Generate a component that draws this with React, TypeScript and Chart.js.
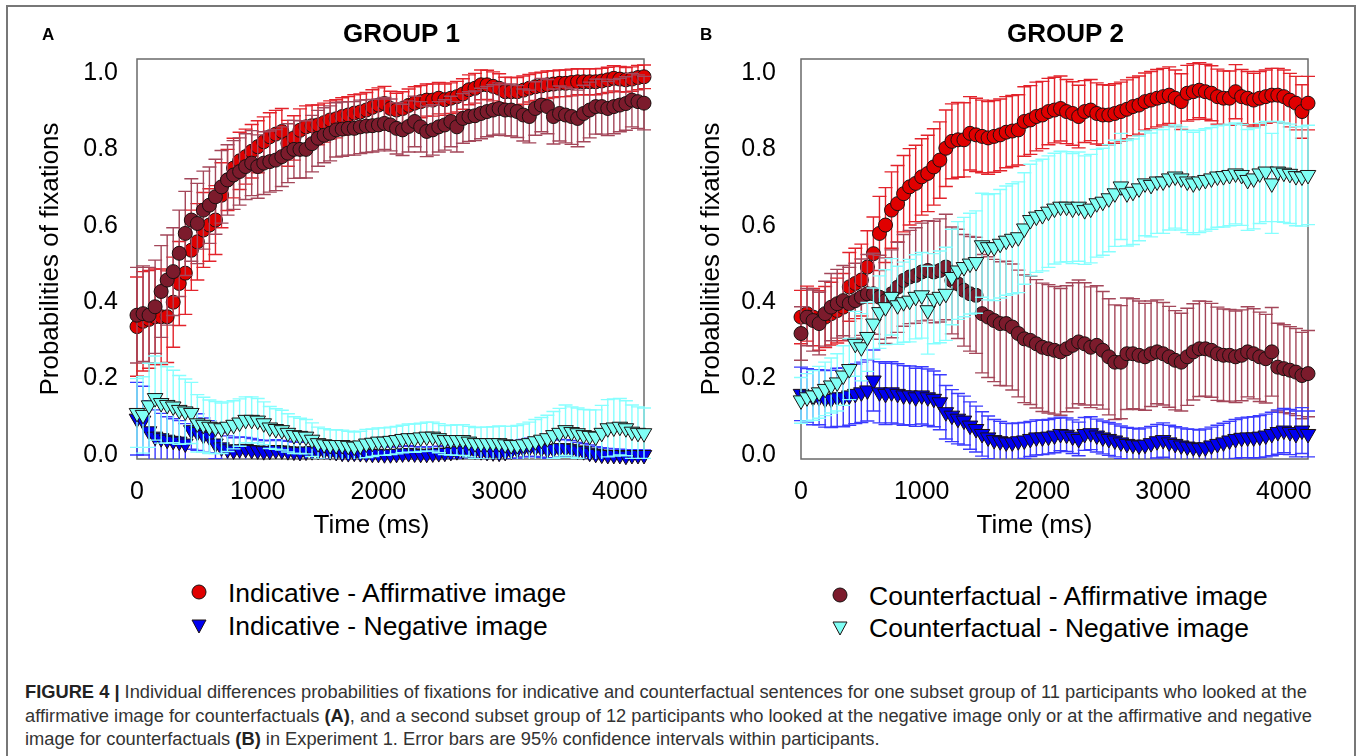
import React, { useEffect, useRef } from "react";
import { Chart, registerables } from "chart.js";
Chart.register(...registerables);

const FONT = "'Liberation Sans', Arial, Helvetica, sans-serif";

const TIME_MS = [0,50,100,150,200,250,300,350,400,450,500,550,600,650,700,750,800,850,900,950,1000,1050,1100,1150,1200,1250,1300,1350,1400,1450,1500,1550,1600,1650,1700,1750,1800,1850,1900,1950,2000,2050,2100,2150,2200,2250,2300,2350,2400,2450,2500,2550,2600,2650,2700,2750,2800,2850,2900,2950,3000,3050,3100,3150,3200,3250,3300,3350,3400,3450,3500,3550,3600,3650,3700,3750,3800,3850,3900,3950,4000,4050,4100,4150,4200];
const X_TICKS = [0, 1000, 2000, 3000, 4000];
const Y_TICKS = [0, 0.2, 0.4, 0.6, 0.8, 1.0];

const SERIES_LABELS = [
  "Indicative - Affirmative image",
  "Counterfactual - Affirmative image",
  "Indicative - Negative image",
  "Counterfactual - Negative image",
];

// ---------- GROUP 1 (panel A) ----------
const A_IND_AFF = [0.336,0.350,0.355,0.362,0.362,0.362,0.400,0.449,0.476,0.536,
  0.558,0.589,0.602,0.615,0.680,0.720,0.751,0.770,0.781,0.795,
  0.807,0.820,0.833,0.840,0.847,0.816,0.830,0.850,0.859,0.862,
  0.864,0.870,0.877,0.880,0.886,0.890,0.895,0.898,0.903,0.910,
  0.916,0.920,0.907,0.903,0.907,0.915,0.921,0.925,0.929,0.929,
  0.934,0.930,0.934,0.938,0.945,0.956,0.960,0.969,0.969,0.965,
  0.960,0.951,0.951,0.951,0.955,0.960,0.964,0.966,0.969,0.971,
  0.973,0.973,0.975,0.977,0.977,0.977,0.977,0.979,0.982,0.986,
  0.984,0.982,0.984,0.988,0.990];
const A_IND_AFF_CI = [0.130,0.130,0.128,0.125,0.125,0.120,0.118,
  0.110,0.108,0.105,0.100,0.098,0.095,0.090,
  0.085,0.080,0.078,0.075,0.072,0.070,0.068,
  0.065,0.063,0.062,0.060,0.060,0.058,0.056,0.055,0.054,0.052,
  0.051,0.050,0.050,0.049,0.048,0.048,0.047,0.046,0.046,0.045,
  0.045,0.045,0.044,0.044,0.043,0.043,0.042,0.042,0.042,0.041,
  0.041,0.040,0.040,0.040,0.039,0.039,0.039,0.038,0.038,0.038,
  0.038,0.037,0.037,0.037,0.036,0.036,0.036,0.036,0.035,0.035,
  0.035,0.035,0.034,0.034,0.034,0.034,0.033,0.033,0.033,0.033,
  0.032,0.032,0.032,0.031];
const A_CF_AFF = [0.366,0.370,0.366,0.388,0.428,0.458,0.480,0.528,0.580,0.615,
  0.606,0.641,0.654,0.676,0.702,0.720,0.733,0.742,0.755,0.764,
  0.755,0.764,0.768,0.772,0.781,0.790,0.800,0.800,0.800,0.815,
  0.829,0.837,0.842,0.851,0.853,0.855,0.855,0.859,0.861,0.862,
  0.864,0.868,0.864,0.855,0.851,0.860,0.873,0.859,0.847,0.851,
  0.859,0.864,0.873,0.859,0.881,0.886,0.888,0.894,0.899,0.903,
  0.907,0.903,0.903,0.899,0.890,0.886,0.907,0.916,0.912,0.886,
  0.894,0.890,0.886,0.881,0.894,0.903,0.912,0.912,0.907,0.912,
  0.916,0.920,0.929,0.925,0.921];
const A_CF_AFF_CI = [0.125,0.125,0.125,0.122,0.120,0.118,0.115,0.113,0.110,0.108,
  0.105,0.102,0.100,0.098,0.095,0.092,0.090,0.088,0.086,0.085,
  0.083,0.082,0.080,0.080,0.078,0.077,0.076,0.075,0.075,0.074,
  0.073,0.072,0.072,0.071,0.071,0.070,0.070,0.070,0.069,0.069,
  0.068,0.068,0.068,0.067,0.067,0.067,0.066,0.066,0.066,0.066,
  0.066,0.066,0.066,0.066,0.065,0.065,0.065,0.066,0.066,0.066,
  0.067,0.067,0.068,0.068,0.068,0.069,0.070,0.070,0.071,0.072,
  0.072,0.073,0.073,0.074,0.074,0.073,0.072,0.072,0.071,0.071,
  0.070,0.070,0.070,0.070,0.070];
const A_IND_NEG = [0.095,0.090,0.062,0.048,0.044,0.040,0.037,0.035,0.030,0.065,
  0.060,0.052,0.048,0.030,0.020,0.015,0.012,0.015,0.016,0.013,
  0.012,0.010,0.011,0.013,0.012,0.010,0.009,0.008,0.009,0.010,
  0.011,0.012,0.010,0.008,0.006,0.005,0.006,0.005,0.004,0.003,
  0.003,0.002,0.002,0.003,0.004,0.005,0.004,0.003,0.003,0.004,
  0.005,0.006,0.008,0.010,0.012,0.013,0.012,0.010,0.008,0.007,
  0.006,0.008,0.012,0.015,0.018,0.020,0.020,0.018,0.015,0.016,
  0.018,0.018,0.016,0.012,0.010,0.006,0.003,0.001,0.000,0.000,
  0.000,-0.002,0.000,0.000,0.000];
const A_IND_NEG_CI = [0.095,0.090,0.080,0.070,0.065,0.060,0.058,0.055,0.052,0.050,
  0.048,0.045,0.042,0.040,0.038,0.035,0.033,0.032,0.030,0.030,
  0.028,0.028,0.027,0.027,0.026,0.026,0.025,0.025,0.025,0.024,
  0.024,0.023,0.023,0.022,0.022,0.022,0.021,0.021,0.020,0.020,
  0.020,0.020,0.019,0.019,0.019,0.019,0.018,0.018,0.018,0.018,
  0.018,0.018,0.018,0.019,0.019,0.020,0.020,0.020,0.021,0.021,
  0.021,0.022,0.022,0.023,0.023,0.024,0.024,0.024,0.024,0.023,
  0.023,0.022,0.022,0.021,0.020,0.020,0.019,0.018,0.017,0.016,
  0.015,0.015,0.014,0.014,0.013];
const A_CF_NEG = [0.110,0.105,0.130,0.149,0.136,0.131,0.127,0.118,0.114,0.110,
  0.083,0.079,0.074,0.072,0.070,0.074,0.079,0.085,0.092,0.092,
  0.090,0.083,0.072,0.068,0.065,0.058,0.052,0.050,0.048,0.040,
  0.031,0.028,0.026,0.026,0.026,0.024,0.022,0.025,0.030,0.032,
  0.035,0.035,0.037,0.039,0.042,0.044,0.044,0.046,0.048,0.048,
  0.044,0.039,0.039,0.039,0.039,0.035,0.031,0.031,0.031,0.031,
  0.031,0.028,0.026,0.026,0.028,0.031,0.036,0.040,0.044,0.052,
  0.058,0.065,0.060,0.057,0.052,0.050,0.048,0.058,0.070,0.072,
  0.074,0.070,0.061,0.058,0.057];
const A_CF_NEG_CI = [0.090,0.100,0.110,0.110,0.105,0.100,0.095,0.090,0.085,0.080,
  0.075,0.072,0.070,0.068,0.066,0.065,0.063,0.062,0.060,0.060,
  0.058,0.056,0.055,0.053,0.052,0.050,0.048,0.046,0.045,0.044,
  0.042,0.041,0.040,0.040,0.039,0.038,0.038,0.037,0.037,0.036,
  0.036,0.036,0.036,0.036,0.036,0.037,0.037,0.037,0.038,0.038,
  0.038,0.038,0.039,0.040,0.040,0.040,0.041,0.042,0.042,0.043,
  0.045,0.047,0.049,0.051,0.053,0.055,0.057,0.058,0.060,0.062,
  0.064,0.066,0.066,0.066,0.067,0.068,0.070,0.072,0.075,0.075,
  0.074,0.072,0.070,0.068,0.066];

// ---------- GROUP 2 (panel B) ----------
const B_IND_AFF = [0.361,0.370,0.361,0.352,0.361,0.370,0.378,0.387,0.440,0.449,
  0.458,0.492,0.527,0.580,0.602,0.641,0.658,0.684,0.702,0.711,
  0.728,0.737,0.754,0.772,0.803,0.821,0.825,0.825,0.842,0.838,
  0.834,0.830,0.834,0.838,0.845,0.848,0.851,0.873,0.877,0.886,
  0.890,0.899,0.903,0.907,0.899,0.894,0.886,0.899,0.903,0.894,
  0.890,0.890,0.894,0.899,0.905,0.912,0.916,0.925,0.929,0.934,
  0.938,0.942,0.934,0.925,0.947,0.951,0.955,0.951,0.947,0.938,
  0.934,0.934,0.951,0.938,0.934,0.929,0.934,0.938,0.942,0.942,
  0.938,0.929,0.921,0.899,0.921];
const B_IND_AFF_CI = [0.070,0.072,0.075,0.078,0.080,0.082,0.085,0.088,0.090,0.092,
  0.094,0.095,0.096,0.097,0.098,0.100,0.100,0.100,0.100,0.100,
  0.100,0.100,0.100,0.100,0.100,0.098,0.098,0.097,0.096,0.096,
  0.095,0.095,0.094,0.094,0.093,0.093,0.092,0.091,0.090,0.090,
  0.088,0.087,0.086,0.085,0.084,0.083,0.082,0.081,0.080,0.080,
  0.079,0.078,0.078,0.077,0.077,0.076,0.076,0.075,0.075,0.075,
  0.074,0.074,0.074,0.073,0.073,0.073,0.072,0.072,0.072,0.072,
  0.071,0.071,0.071,0.071,0.070,0.070,0.070,0.070,0.070,0.070,
  0.070,0.070,0.070,0.070,0.070];
const B_CF_AFF = [0.318,0.361,0.352,0.344,0.370,0.387,0.396,0.404,0.396,0.404,
  0.413,0.422,0.422,0.413,0.404,0.422,0.439,0.457,0.466,0.470,
  0.479,0.483,0.479,0.483,0.492,0.457,0.448,0.431,0.422,0.418,
  0.370,0.361,0.352,0.344,0.344,0.335,0.318,0.304,0.300,0.291,
  0.282,0.278,0.274,0.270,0.278,0.287,0.296,0.291,0.282,0.287,
  0.274,0.257,0.243,0.243,0.265,0.265,0.261,0.257,0.265,0.270,
  0.265,0.257,0.248,0.243,0.257,0.270,0.278,0.278,0.274,0.265,
  0.261,0.261,0.257,0.261,0.270,0.265,0.257,0.252,0.270,0.230,
  0.226,0.222,0.217,0.208,0.213];
const B_CF_AFF_CI = [0.070,0.075,0.080,0.082,0.085,0.088,0.090,0.092,0.095,0.098,
  0.100,0.103,0.106,0.110,0.112,0.115,0.118,0.120,0.122,0.125,
  0.128,0.130,0.133,0.135,0.138,0.140,0.143,0.146,0.150,0.152,
  0.155,0.158,0.160,0.162,0.163,0.165,0.166,0.167,0.168,0.168,
  0.168,0.168,0.167,0.166,0.165,0.164,0.162,0.160,0.158,0.156,
  0.154,0.152,0.150,0.148,0.146,0.144,0.142,0.140,0.138,0.136,
  0.134,0.132,0.130,0.128,0.127,0.126,0.125,0.124,0.123,0.122,
  0.121,0.120,0.120,0.119,0.118,0.118,0.117,0.116,0.116,0.115,
  0.115,0.114,0.114,0.113,0.113];
const B_IND_NEG = [0.160,0.156,0.151,0.151,0.147,0.147,0.151,0.151,0.156,0.160,
  0.164,0.169,0.195,0.164,0.160,0.164,0.160,0.156,0.156,0.151,
  0.156,0.151,0.147,0.138,0.112,0.103,0.095,0.090,0.077,0.068,
  0.055,0.046,0.039,0.036,0.033,0.033,0.036,0.038,0.042,0.046,
  0.046,0.048,0.051,0.055,0.053,0.048,0.042,0.055,0.057,0.051,
  0.046,0.042,0.038,0.033,0.029,0.027,0.025,0.027,0.031,0.036,
  0.039,0.033,0.029,0.025,0.022,0.020,0.018,0.020,0.025,0.029,
  0.033,0.038,0.042,0.045,0.046,0.046,0.048,0.051,0.055,0.060,
  0.064,0.060,0.055,0.064,0.055];
const B_IND_NEG_CI = [0.070,0.070,0.072,0.072,0.074,0.075,0.076,0.077,0.078,0.078,
  0.079,0.080,0.080,0.080,0.080,0.080,0.079,0.078,0.077,0.076,
  0.075,0.074,0.073,0.072,0.070,0.068,0.066,0.064,0.062,0.060,
  0.058,0.056,0.054,0.052,0.050,0.049,0.048,0.047,0.046,0.046,
  0.045,0.045,0.045,0.044,0.044,0.044,0.044,0.043,0.043,0.043,
  0.043,0.043,0.043,0.043,0.043,0.043,0.043,0.044,0.044,0.044,
  0.045,0.045,0.045,0.046,0.046,0.047,0.047,0.048,0.048,0.049,
  0.050,0.050,0.051,0.052,0.053,0.054,0.055,0.056,0.057,0.058,
  0.058,0.059,0.060,0.060,0.060];
const B_CF_NEG = [0.143,0.151,0.156,0.164,0.173,0.182,0.190,0.208,0.225,0.291,
  0.282,0.309,0.344,0.374,0.387,0.414,0.392,0.400,0.404,0.414,
  0.418,0.379,0.409,0.414,0.422,0.466,0.483,0.492,0.501,0.505,
  0.549,0.544,0.544,0.553,0.561,0.566,0.570,0.593,0.615,0.624,
  0.628,0.637,0.645,0.650,0.650,0.645,0.650,0.641,0.645,0.659,
  0.663,0.672,0.685,0.703,0.685,0.689,0.698,0.711,0.707,0.716,
  0.716,0.724,0.729,0.724,0.716,0.711,0.716,0.720,0.724,0.729,
  0.730,0.733,0.737,0.733,0.720,0.724,0.737,0.742,0.711,0.742,
  0.739,0.736,0.730,0.729,0.733];
const B_CF_NEG_CI = [0.060,0.062,0.065,0.068,0.070,0.072,0.075,0.078,0.080,0.085,
  0.088,0.090,0.093,0.095,0.098,0.100,0.102,0.105,0.108,0.110,
  0.112,0.115,0.118,0.120,0.122,0.125,0.128,0.130,0.132,0.134,
  0.136,0.138,0.140,0.142,0.143,0.144,0.145,0.146,0.146,0.146,
  0.146,0.146,0.145,0.145,0.144,0.144,0.143,0.142,0.142,0.141,
  0.140,0.140,0.139,0.139,0.138,0.138,0.137,0.137,0.136,0.136,
  0.136,0.135,0.135,0.135,0.134,0.134,0.134,0.134,0.133,0.133,
  0.133,0.133,0.132,0.132,0.132,0.132,0.131,0.131,0.131,0.131,
  0.130,0.130,0.130,0.130,0.130];

// visual styles (kept apart from data)
const STYLES = [
  { fill: "#E00000", err: "#E3232B", shape: "circle", radius: 7, order: 4 },
  { fill: "#7C1B2C", err: "#A4475A", shape: "circle", radius: 7, order: 3 },
  { fill: "#0000F0", err: "#3A3AFF", shape: "triangle", radius: 9, order: 2 },
  { fill: "#80FFF5", err: "#86FFFF", shape: "triangle", radius: 9, order: 1 },
];

const errorBarPlugin = {
  id: "errorBars",
  beforeDatasetDraw(chart: any, args: any) {
    const ds = chart.data.datasets[args.index];
    const errs: number[] | undefined = ds.errors;
    if (!errs) return;
    const yScale = chart.scales.y;
    const area = chart.chartArea;
    const ctx = chart.ctx;
    ctx.save();
    ctx.beginPath();
    ctx.rect(area.left - 30, area.top, area.right - area.left + 60, area.bottom - area.top);
    ctx.clip();
    ctx.strokeStyle = ds.errColor;
    ctx.lineWidth = 1.4;
    const cap = 7;
    args.meta.data.forEach((pt: any, i: number) => {
      const v = ds.data[i].y;
      const e = errs[i];
      const x = pt.x;
      const yt = yScale.getPixelForValue(v + e);
      const yb = yScale.getPixelForValue(v - e);
      ctx.beginPath();
      ctx.moveTo(x, yt);
      ctx.lineTo(x, yb);
      ctx.moveTo(x - cap, yt);
      ctx.lineTo(x + cap, yt);
      ctx.moveTo(x - cap, yb);
      ctx.lineTo(x + cap, yb);
      ctx.stroke();
    });
    ctx.restore();
  },
};

const framePlugin = {
  id: "plotFrame",
  beforeDatasetsDraw(chart: any) {
    const { ctx, chartArea: a } = chart;
    ctx.save();
    ctx.strokeStyle = "#6a6a6a";
    ctx.lineWidth = 1.5;
    ctx.strokeRect(a.left, a.top, a.right - a.left, a.bottom - a.top);
    ctx.restore();
  },
};

// panel title and x-axis title, placed relative to the plot area
const panelTextPlugin = {
  id: "panelText",
  afterDraw(chart: any, _args: any, opts: any) {
    const { ctx, chartArea: a } = chart;
    const cx = (a.left + a.right) / 2;
    ctx.save();
    ctx.fillStyle = "#000";
    ctx.textAlign = "center";
    ctx.textBaseline = "middle";
    ctx.font = `bold 26px ${FONT}`;
    ctx.fillText(opts.title, cx + opts.titleDx, opts.titleY);
    ctx.font = `26px ${FONT}`;
    ctx.fillText(opts.xTitle, cx + opts.xTitleDx, opts.xTitleY);
    ctx.restore();
  },
};

type PanelCfg = {
  title: string;
  series: number[][];
  errors: number[][];
  yTitlePad: number;
  tickPad: number;
  xTitleDx: number;
  titleDx: number;
};

function PanelChart({ left, width, cfg }: { left: number; width: number; cfg: PanelCfg }) {
  const ref = useRef<HTMLCanvasElement>(null);
  useEffect(() => {
    const datasets = cfg.series.map((vals, k) => ({
      label: SERIES_LABELS[k],
      data: TIME_MS.map((t, i) => ({ x: t, y: vals[i] })),
      errors: cfg.errors[k],
      errColor: STYLES[k].err,
      pointStyle: STYLES[k].shape,
      pointRadius: STYLES[k].radius,
      pointRotation: STYLES[k].shape === "triangle" ? 180 : 0,
      pointBackgroundColor: STYLES[k].fill,
      pointBorderColor: "#1a1010",
      pointBorderWidth: 1,
      backgroundColor: STYLES[k].fill,
      borderColor: "#1a1010",
      showLine: false,
      clip: false,
      order: STYLES[k].order,
    }));
    const chart = new Chart(ref.current!, {
      type: "scatter",
      data: { datasets } as any,
      plugins: [errorBarPlugin, framePlugin, panelTextPlugin],
      options: {
        animation: false,
        responsive: false,
        events: [],
        layout: { padding: { left: 0, right: width - 137 - 507, top: 59, bottom: 0 } },
        plugins: {
          legend: { display: false },
          tooltip: { enabled: false },
          title: { display: false },
          panelText: {
            title: cfg.title,
            titleDx: cfg.titleDx,
            titleY: 35,
            xTitle: "Time (ms)",
            xTitleDx: cfg.xTitleDx,
            xTitleY: 526,
          },
        } as any,
        scales: {
          x: {
            type: "linear",
            min: 0,
            max: 4200,
            afterBuildTicks: (s: any) => {
              s.ticks = X_TICKS.map((v) => ({ value: v }));
            },
            afterFit: (s: any) => {
              s.height = 101;
            },
            grid: { display: false, drawTicks: false },
            border: { display: false },
            ticks: {
              color: "#000",
              font: { family: FONT, size: 25 },
              padding: 18,
              maxRotation: 0,
              autoSkip: false,
              callback: (v: any) => String(v),
            },
          },
          y: {
            type: "linear",
            min: -0.0105,
            max: 1.0366,
            afterBuildTicks: (s: any) => {
              s.ticks = Y_TICKS.map((v) => ({ value: v }));
            },
            afterFit: (s: any) => {
              s.width = 137;
            },
            grid: { display: false, drawTicks: false },
            border: { display: false },
            ticks: {
              color: "#000",
              font: { family: FONT, size: 25 },
              padding: cfg.tickPad,
              callback: (v: any) => Number(v).toFixed(1),
            },
            title: {
              display: true,
              text: "Probabilities of fixations",
              color: "#000",
              font: { family: FONT, size: 26 },
              padding: { top: cfg.yTitlePad, bottom: 0 },
            },
          },
        },
      } as any,
    });
    return () => chart.destroy();
  }, []);
  return (
    <canvas
      ref={ref}
      width={width}
      height={560}
      style={{ position: "absolute", left, top: 0, width, height: 560 }}
    />
  );
}

function Marker({ shape, color, x, y }: { shape: string; color: string; x: number; y: number }) {
  return (
    <svg width={20} height={20} style={{ position: "absolute", left: x - 10, top: y - 10 }}>
      {shape === "circle" ? (
        <circle cx={10} cy={10} r={7} fill={color} stroke="#1a1010" strokeWidth={1} />
      ) : (
        <polygon points="3,4 17,4 10,17" fill={color} stroke="#1a1010" strokeWidth={1} />
      )}
    </svg>
  );
}

function LegendItem({ k, mx, my, tx, baseline }: { k: number; mx: number; my: number; tx: number; baseline: number }) {
  return (
    <>
      <Marker shape={STYLES[k].shape} color={STYLES[k].fill} x={mx} y={my} />
      <div
        style={{
          position: "absolute",
          left: tx,
          top: baseline - 22,
          fontSize: 26.5,
          lineHeight: "26px",
          whiteSpace: "nowrap",
          color: "#000",
        }}
      >
        {SERIES_LABELS[k]}
      </div>
    </>
  );
}

export default function App() {
  const panelA: PanelCfg = {
    title: "GROUP 1",
    series: [A_IND_AFF, A_CF_AFF, A_IND_NEG, A_CF_NEG],
    errors: [A_IND_AFF_CI, A_CF_AFF_CI, A_IND_NEG_CI, A_CF_NEG_CI],
    yTitlePad: 35,
    tickPad: 19,
    xTitleDx: -19,
    titleDx: 11,
  };
  const panelB: PanelCfg = {
    title: "GROUP 2",
    series: [B_IND_AFF, B_CF_AFF, B_IND_NEG, B_CF_NEG],
    errors: [B_IND_AFF_CI, B_CF_AFF_CI, B_IND_NEG_CI, B_CF_NEG_CI],
    yTitlePad: 32,
    tickPad: 25,
    xTitleDx: -20,
    titleDx: 11,
  };
  const capStyle: React.CSSProperties = {
    position: "absolute",
    left: 25,
    fontSize: 18.3,
    lineHeight: "20px",
    color: "#333",
    whiteSpace: "nowrap",
  };
  return (
    <div
      style={{
        position: "absolute",
        left: 0,
        top: 0,
        width: 1357,
        height: 756,
        overflow: "hidden",
        background: "#fff",
        fontFamily: FONT,
      }}
    >
      <div
        style={{
          position: "absolute",
          left: 6,
          top: 5,
          width: 1350,
          height: 800,
          border: "2px solid #777",
          boxSizing: "border-box",
        }}
      />
      <PanelChart left={0} width={700} cfg={panelA} />
      <PanelChart left={664} width={680} cfg={panelB} />
      <div style={{ position: "absolute", left: 42, top: 26, fontSize: 17, fontWeight: "bold", lineHeight: "17px" }}>A</div>
      <div style={{ position: "absolute", left: 700, top: 26, fontSize: 17, fontWeight: "bold", lineHeight: "17px" }}>B</div>

      <LegendItem k={0} mx={199} my={592} tx={228} baseline={602} />
      <LegendItem k={2} mx={199} my={626} tx={228} baseline={635} />
      <LegendItem k={1} mx={840} my={595} tx={869} baseline={605} />
      <LegendItem k={3} mx={840} my={628} tx={869} baseline={637} />

      <div style={{ ...capStyle, top: 682 }}>
        <b style={{ color: "#222" }}>FIGURE 4 |</b> Individual differences probabilities of fixations for indicative and counterfactual sentences for one subset group of 11 participants who looked at the
      </div>
      <div style={{ ...capStyle, top: 706 }}>
        affirmative image for counterfactuals <b style={{ color: "#222" }}>(A)</b>, and a second subset group of 12 participants who looked at the negative image only or at the affirmative and negative
      </div>
      <div style={{ ...capStyle, top: 729 }}>
        image for counterfactuals <b style={{ color: "#222" }}>(B)</b> in Experiment 1. Error bars are 95% confidence intervals within participants.
      </div>
    </div>
  );
}
